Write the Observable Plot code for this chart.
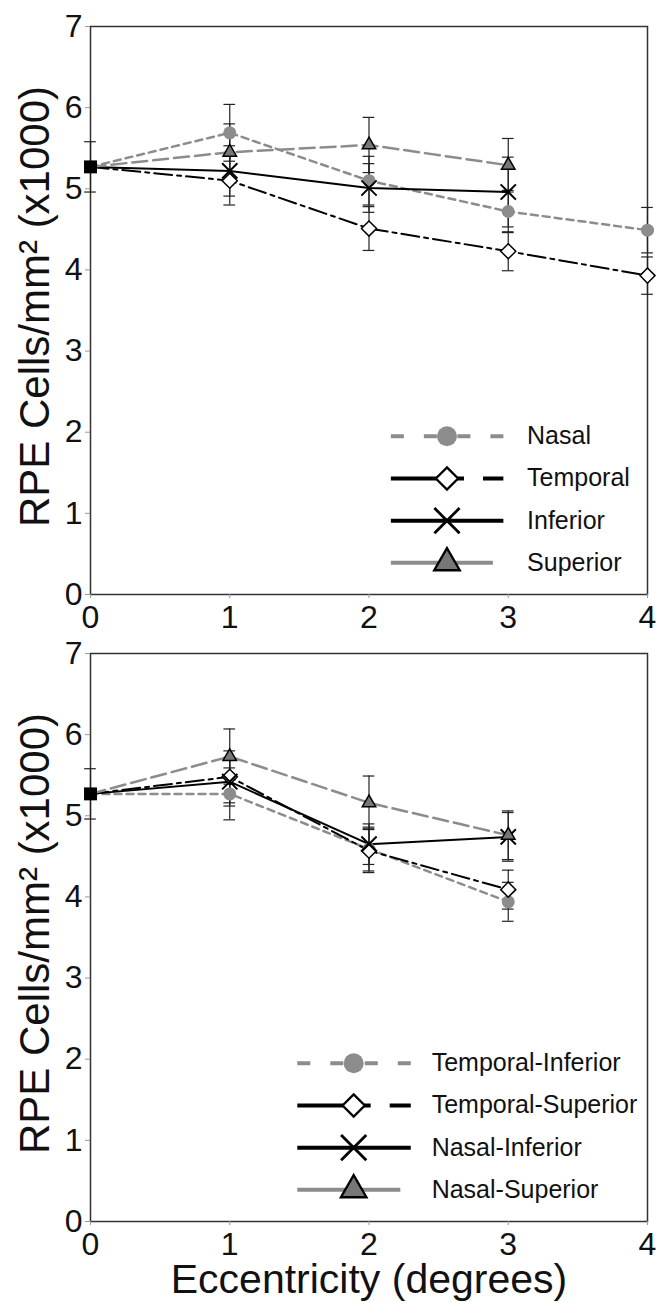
<!DOCTYPE html>
<html><head><meta charset="utf-8">
<script src="https://cdn.jsdelivr.net/npm/d3@7"></script>
<script src="https://cdn.jsdelivr.net/npm/@observablehq/plot@0.6"></script>
<style>
body{margin:0;background:#fff}
#wrap{position:relative;width:657px;height:1302px;overflow:hidden}
#wrap svg{position:absolute;left:0;overflow:visible}
</style>
</head><body><div id="wrap"></div>
<script>
// ---- data ----
const eccentricity = [0, 1, 2, 3, 4];
const xTicks = [0, 1, 2, 3, 4];
const yTicks = [0, 1, 2, 3, 4, 5, 6, 7];
const centerValue = 5.27;
const centerError = 0.31;

const topNames = ["Nasal", "Temporal", "Inferior", "Superior"];
const nasal = [5.69, 5.10, 4.72, 4.49];
const nasalErr = [0.35, 0.30, 0.26, 0.28];
const temporal = [5.10, 4.51, 4.23, 3.93];
const temporalErr = [0.30, 0.27, 0.24, 0.23];
const inferior = [5.22, 5.01, 4.96];
const inferiorErr = [0.31, 0.30, 0.43];
const superior = [5.45, 5.54, 5.29];
const superiorErr = [0.35, 0.34, 0.33];

const bottomNames = ["Temporal-Inferior", "Temporal-Superior", "Nasal-Inferior", "Nasal-Superior"];
const temporalInferior = [5.27, 4.59, 3.94];
const temporalInferiorErr = [0.32, 0.27, 0.24];
const temporalSuperior = [5.48, 4.57, 4.09];
const temporalSuperiorErr = [0.32, 0.27, 0.24];
const nasalInferior = [5.42, 4.65, 4.74];
const nasalInferiorErr = [0.30, 0.25, 0.30];
const nasalSuperior = [5.73, 5.16, 4.76];
const nasalSuperiorErr = [0.34, 0.33, 0.30];

const yTitle = "RPE Cells/mm\u00B2 (x1000)";
const xTitle = "Eccentricity (degrees)";

// ---- styles ----
const FONT = "'Liberation Sans', Arial, Helvetica, sans-serif";
const GRAY = "#8c8c8c";
const lineStyles = [
  {stroke: GRAY, strokeWidth: 2.5, strokeDasharray: "7,5"},
  {stroke: "#000", strokeWidth: 2, strokeDasharray: "18,5,4,5"},
  {stroke: "#000", strokeWidth: 2},
  {stroke: GRAY, strokeWidth: 2.5, strokeDasharray: "15,6"}
];
const markStyles = [
  {symbol: "circle", fill: GRAY, stroke: "none", strokeWidth: 0, r: 6.5, rL: 10},
  {symbol: "diamond2", fill: "#fff", stroke: "#000", strokeWidth: 1.5, r: 6.8, rL: 10},
  {symbol: "times", fill: "none", stroke: "#000", strokeWidth: 2, r: 7, rL: 11.5},
  {symbol: "triangle", fill: "#777", stroke: "#000", strokeWidth: 1.5, r: 5, rL: 9.5}
];
const legendRowsY = [1.95, 1.43, 0.91, 0.39];

function panel({names, values, errors, legend, height, marginBottom, showXTitle}) {
  const rows = [];
  names.forEach((name, i) => {
    rows.push({name, i, x: eccentricity[0], y: centerValue, e: centerError});
    values[i].forEach((v, j) => rows.push({name, i, x: eccentricity[j + 1], y: v, e: errors[i][j]}));
  });
  const pts = rows.filter(d => d.x !== eccentricity[0]);
  const center = [{x: eccentricity[0], y: centerValue, e: centerError}];
  const errRows = pts.concat(center);
  const cap = 0.042;
  const marks = [
    Plot.frame({stroke: "#333", strokeWidth: 1.5}),
    Plot.ruleX(errRows, {x: "x", y1: d => d.y - d.e, y2: d => d.y + d.e, stroke: "#222", strokeWidth: 1.2}),
    Plot.ruleY(errRows, {y: d => d.y - d.e, x1: d => d.x - cap, x2: d => d.x + cap, stroke: "#222", strokeWidth: 1.2}),
    Plot.ruleY(errRows, {y: d => d.y + d.e, x1: d => d.x - cap, x2: d => d.x + cap, stroke: "#222", strokeWidth: 1.2})
  ];
  names.forEach((name, i) => marks.push(Plot.line(rows.filter(d => d.i === i), {x: "x", y: "y", ...lineStyles[i]})));
  names.forEach((name, i) => {
    const m = markStyles[i];
    marks.push(Plot.dot(pts.filter(d => d.i === i), {x: "x", y: "y", symbol: m.symbol, fill: m.fill, stroke: m.stroke, strokeWidth: m.strokeWidth, r: m.r}));
  });
  marks.push(Plot.dot(center, {x: "x", y: "y", symbol: "square", fill: "#000", r: 7.3}));

  // legend
  const L = legend;
  const leg = names.map((name, i) => ({name, i, ly: legendRowsY[i]}));
  const lw = 4;
  marks.push(Plot.link([leg[0]], {x1: L.start, x2: L.mid, y1: "ly", y2: "ly", stroke: GRAY, strokeWidth: lw, strokeDasharray: "13,20"}));
  marks.push(Plot.link([leg[0]], {x1: L.end, x2: L.mid, y1: "ly", y2: "ly", stroke: GRAY, strokeWidth: lw, strokeDasharray: "13,20"}));
  marks.push(Plot.link([leg[1]], {x1: L.start, x2: L.mid, y1: "ly", y2: "ly", stroke: "#000", strokeWidth: lw}));
  marks.push(Plot.link([leg[1]], {x1: L.mid, x2: L.end, y1: "ly", y2: "ly", stroke: "#000", strokeWidth: lw, strokeDasharray: "17,19,40"}));
  marks.push(Plot.link([leg[2]], {x1: L.start, x2: L.end, y1: "ly", y2: "ly", stroke: "#000", strokeWidth: lw}));
  marks.push(Plot.link([leg[3]], {x1: L.start, x2: L.end - 0.075, y1: "ly", y2: "ly", stroke: GRAY, strokeWidth: lw}));
  leg.forEach((d, i) => {
    const m = markStyles[i];
    marks.push(Plot.dot([d], {x: L.mid, y: "ly", symbol: m.symbol, fill: m.fill, stroke: m.stroke, strokeWidth: m.strokeWidth === 0 ? 0 : m.strokeWidth + 0.8, r: m.rL}));
  });
  marks.push(Plot.text(leg, {x: L.text, y: "ly", text: "name", textAnchor: "start", fontSize: 25, fill: "#111"}));

  marks.push(Plot.axisX({ticks: xTicks, tickFormat: "d", tickSize: 4, tickPadding: 7, fontSize: 32, stroke: "#999", fill: "#111", label: null}));
  marks.push(Plot.axisY({ticks: yTicks, tickFormat: "d", tickSize: 5, tickPadding: 3, fontSize: 32, stroke: "#999", fill: "#111", label: null}));
  marks.push(Plot.text([yTitle], {text: d => d, frameAnchor: "left", textAnchor: "middle", lineAnchor: "middle", rotate: -90, dx: -55, dy: -4, fontSize: 42, fill: "#111"}));
  if (showXTitle) marks.push(Plot.text([xTitle], {text: d => d, frameAnchor: "bottom", textAnchor: "middle", lineAnchor: "middle", dy: 58, fontSize: 41, fill: "#111"}));

  return Plot.plot({
    width: 657, height,
    marginLeft: 90, marginRight: 10, marginTop: 26, marginBottom,
    style: {fontFamily: FONT, fontSize: "32px", background: "transparent", overflow: "visible"},
    x: {domain: [0, 4]},
    y: {domain: [0, 7]},
    marks
  });
}

const wrap = document.getElementById("wrap");
const p1 = panel({
  names: topNames,
  values: [nasal, temporal, inferior, superior],
  errors: [nasalErr, temporalErr, inferiorErr, superiorErr],
  legend: {start: 2.157, mid: 2.56, end: 2.965, text: 3.135},
  height: 640, marginBottom: 46, showXTitle: false
});
p1.style.top = "0px";
wrap.appendChild(p1);
const p2 = panel({
  names: bottomNames,
  values: [temporalInferior, temporalSuperior, nasalInferior, nasalSuperior],
  errors: [temporalInferiorErr, temporalSuperiorErr, nasalInferiorErr, nasalSuperiorErr],
  legend: {start: 1.485, mid: 1.89, end: 2.30, text: 2.45},
  height: 675, marginBottom: 81, showXTitle: true
});
p2.style.top = "627px";
wrap.appendChild(p2);
</script>
</body></html>
